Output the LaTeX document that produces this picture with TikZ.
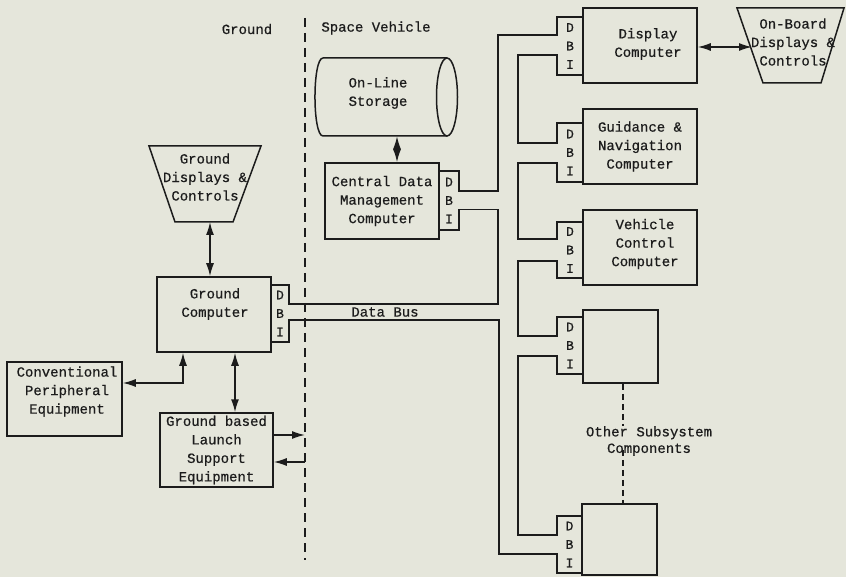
\documentclass[tikz,border=0pt]{standalone}
\usepackage{fontspec}
\newfontfamily\tw[FakeBold=0.6]{Liberation Mono}
\usetikzlibrary{arrows.meta,calc,shapes.geometric}
\definecolor{paper}{RGB}{229,230,219}
\definecolor{ink}{RGB}{28,28,28}
\begin{document}
\begin{tikzpicture}[x=1pt,y=-1pt,
  >={Latex[length=13pt,width=8pt]},
  every node/.style={font=\tw\fontsize{14}{18.5}\selectfont, text=ink, inner sep=0pt},
  box/.style={draw=ink, line width=1.5pt, rectangle, inner sep=0pt, align=center},
  txt/.style={align=center},
  dbi/.style={inner sep=0pt, align=center, font=\tw\fontsize{13}{18.5}\selectfont},
  bus/.style={draw=ink, line width=1.5pt},
  dbl/.style={draw=ink, line width=1.5pt, <->},
  arr/.style={draw=ink, line width=1.5pt, ->},
  divider/.style={draw=ink, line width=1.3pt, dash pattern=on 9pt off 6pt},
  thindash/.style={draw=ink, line width=1.1pt, dash pattern=on 6pt off 4pt},
]
\fill[paper] (0,0) rectangle (846,577);
\useasboundingbox (0,0) rectangle (846,577);

% headings
\node[txt] (lg) at (247,29) {Ground};
\node[txt] (lsv) at (376,28) {Space Vehicle};
\coordinate (divt) at (305,18);
\coordinate (divb) at (305,560);
\draw[divider] (divt) -- (divb);

% storage (horizontal cylinder)
\node[minimum width=143pt, minimum height=78pt] (stor) at (386.5,97) {};
\draw[bus] (447,58) -- (323,58) .. controls (312.3,58) and (312.3,136) .. (323,136) -- (447,136);
\draw[bus] (447,97) ellipse [x radius=10.5pt, y radius=39pt];
\node[txt] (stort) at (378,93) {On-Line\\Storage};

% central computer
\node[box, minimum width=114pt, minimum height=76pt] (cen) at (382,201) {Central Data\\Management\\Computer};
\node[dbi, minimum width=20pt, minimum height=59pt] (cdbi) at (449,200.5) {D\\B\\I};
\coordinate (sa) at (397,0);
\draw[dbl] (stor.south -| sa) -- (cen.north -| sa);

% ground displays
\draw[bus] (149,146) -- (261,146) -- (233,222) -- (175,222) -- cycle;
\node[txt] (gdct) at (205,177) {Ground\\Displays \&\\Controls};
\coordinate (gdcb) at (210,222);

% ground computer
\node[box, minimum width=114pt, minimum height=75pt] (gc) at (214,314.5) {};
\node[txt] (gct) at (215,304) {Ground\\Computer};
\node[dbi, minimum width=18pt, minimum height=57pt] (gdbi) at (280,313.5) {D\\B\\I};
\draw[dbl] (gdcb) -- (gdcb |- gc.north);

% conventional peripheral
\node[box, minimum width=115pt, minimum height=74pt] (conv) at (64.5,399) {};
\node[txt] (convt) at (67,391.5) {Conventional\\Peripheral\\Equipment};
\draw[dbl] ($(conv.east)+(0,-16)$) -| ($(gc.south)+(-31,0)$);

% launch support
\node[box, minimum width=113pt, minimum height=74pt] (lse) at (216.5,450) {Ground based\\Launch\\Support\\Equipment};
\draw[dbl] ($(gc.south)+(21,0)$) -- ($(lse.north)+(18.5,0)$);
\coordinate (l1) at ($(lse.east)+(0,-15)$);
\coordinate (l2) at ($(lse.east)+(0,12)$);
\draw[arr] (l1) -- (l1 -| divt);
\draw[arr] (l2 -| divt) -- (l2);

% data bus label
\node[txt] (ldb) at (385,312) {Data Bus};

% right column
\node[box, minimum width=114pt, minimum height=75pt] (disp) at (640,45.5) {};
\node[txt] (dispt) at (648,44) {Display\\Computer};
\node[dbi, minimum width=26pt, minimum height=58pt] (ddbi) at (570,46) {D\\B\\I};

\node[box, minimum width=114pt, minimum height=75pt] (gn) at (640,146.5) {Guidance \&\\Navigation\\Computer};
\node[dbi, minimum width=26pt, minimum height=59pt] (gndbi) at (570,152.5) {D\\B\\I};

\node[box, minimum width=114pt, minimum height=75pt] (vc) at (640,247.5) {};
\node[txt] (vct) at (645,244) {Vehicle\\Control\\Computer};
\node[dbi, minimum width=26pt, minimum height=56pt] (vcdbi) at (570,250) {D\\B\\I};

\node[box, minimum width=75pt, minimum height=73pt] (b4) at (620.5,346.5) {};
\node[dbi, minimum width=26pt, minimum height=57pt] (b4dbi) at (570,345.5) {D\\B\\I};

\node[box, minimum width=75pt, minimum height=71pt] (b5) at (619.5,539.5) {};
\node[dbi, minimum width=25pt, minimum height=57pt] (b5dbi) at (569.5,544.5) {D\\B\\I};

\node[txt, font=\tw\fontsize{14}{16.5}\selectfont] (osc) at (649,441) {Other Subsystem\\Components};
\coordinate (dx) at (623,0);
\draw[thindash] (b4.south -| dx) -- (dx |- osc.north);
\draw[thindash] ($(dx |- osc.south)+(0,-6)$) -- (b5.north -| dx);

% on-board displays
\draw[bus] (737,8) -- (844,8) -- (821,83) -- (763,83) -- cycle;
\node[txt] (obt) at (793,42) {On-Board\\Displays \&\\Controls};
\coordinate (obl) at (752,47);
\draw[dbl] (disp.east |- obl) -- (obl);

% bus walls
\draw[bus] (cdbi.north west) -- (cdbi.north east) -- ($(cdbi.east)+(0,-9.5)$) -- ++(39,0)
  |- ($(ddbi.west)+(0,-11)$) -- (ddbi.north west) -- (ddbi.north east);
\draw[bus] (cdbi.south west) -- (cdbi.south east) -- ($(cdbi.east)+(0,9)$) -- ++(39,0)
  |- ($(gdbi.east)+(0,-9.5)$) -- (gdbi.north east) -- (gdbi.north west);
\draw[bus] (gdbi.south west) -- (gdbi.south east) -- ($(gdbi.east)+(0,6.5)$) -- ++(210,0)
  |- ($(b5dbi.west)+(0,9.5)$) -- (b5dbi.south west) -- (b5dbi.south east);
\draw[bus] (ddbi.south east) -- (ddbi.south west) -- ($(ddbi.west)+(0,9)$) -- ++(-39,0)
  |- ($(gndbi.west)+(0,-9.5)$) -- (gndbi.north west) -- (gndbi.north east);
\draw[bus] (gndbi.south east) -- (gndbi.south west) -- ($(gndbi.west)+(0,10.5)$) -- ++(-39,0)
  |- ($(vcdbi.west)+(0,-11)$) -- (vcdbi.north west) -- (vcdbi.north east);
\draw[bus] (vcdbi.south east) -- (vcdbi.south west) -- ($(vcdbi.west)+(0,11)$) -- ++(-39,0)
  |- ($(b4dbi.west)+(0,-9.5)$) -- (b4dbi.north west) -- (b4dbi.north east);
\draw[bus] (b4dbi.south east) -- (b4dbi.south west) -- ($(b4dbi.west)+(0,10.5)$) -- ++(-39,0)
  |- ($(b5dbi.west)+(0,-9.5)$) -- (b5dbi.north west) -- (b5dbi.north east);
\end{tikzpicture}
\end{document}
